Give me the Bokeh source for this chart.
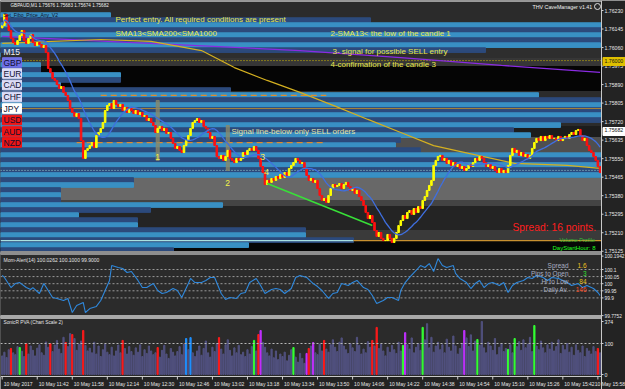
import numpy as np
import pandas as pd
from bokeh.plotting import figure
from bokeh.models import Range1d
from bokeh.embed import file_html
from bokeh.resources import INLINE
from bokeh.core.properties import value

# ---------------- data ----------------
chart_title = "GBPAUD,M1  1.75676 1.75683 1.75674 1.75682"
base_price = 1.75000
point = 0.00001
first_open_pts = 1150
# M1 closes, in points above 1.75000, one per minute from 11:26
close_pts = [
    1161, 1212, 1175, 1138, 1102, 1083, 1074, 1092, 1115, 1138,
    1092, 1079, 1102, 1120, 1083, 1069, 1083, 1074, 1060, 1069,
    1037, 964, 945, 918, 909, 890, 872, 881, 854, 840,
    817, 780, 762, 744, 757, 734, 633, 551, 588, 597,
    610, 624, 601, 656, 670, 689, 716, 771, 794, 803,
    780, 817, 799, 789, 799, 771, 785, 762, 780, 771,
    757, 771, 753, 762, 744, 748, 725, 734, 716, 702,
    670, 689, 698, 679, 689, 666, 670, 643, 620, 597,
    606, 588, 578, 610, 633, 656, 689, 716, 725, 734,
    716, 725, 698, 689, 670, 643, 652, 610, 560, 551,
    565, 542, 560, 588, 551, 542, 532, 551, 542, 551,
    578, 569, 588, 597, 588, 606, 588, 551, 514, 486,
    431, 450, 441, 459, 450, 468, 459, 477, 464, 486,
    473, 505, 519, 532, 551, 542, 528, 532, 505, 473,
    450, 459, 441, 450, 413, 381, 358, 367, 349, 381,
    413, 431, 422, 427, 436, 413, 431, 441, 422, 404,
    413, 390, 404, 376, 358, 335, 303, 275, 289, 257,
    220, 193, 211, 184, 174, 174, 202, 184, 165, 184,
    211, 243, 266, 289, 275, 303, 312, 294, 321, 303,
    330, 321, 358, 376, 404, 427, 450, 519, 542, 560,
    565, 542, 551, 528, 542, 519, 532, 514, 523, 505,
    514, 496, 505, 523, 514, 532, 551, 542, 560, 551,
    532, 514, 523, 505, 514, 496, 486, 505, 486, 496,
    486, 519, 565, 597, 578, 588, 565, 578, 560, 569,
    551, 565, 597, 624, 643, 633, 652, 633, 652, 643,
    656, 643, 643, 633, 652, 633, 643, 652, 643, 661,
    670, 661, 679, 684, 656, 633, 643, 610, 588, 578,
    560, 542, 514, 486,
]
time_label_bars = [0, 16, 32, 48, 64, 80, 96, 112, 128, 144, 160, 176, 192, 208, 224, 240, 256, 272]
time_labels = ["10 May 2017", "10 May 11:42", "10 May 11:58", "10 May 12:14", "10 May 12:30",
               "10 May 12:46", "10 May 13:02", "10 May 13:18", "10 May 13:34", "10 May 13:50",
               "10 May 14:06", "10 May 14:22", "10 May 14:38", "10 May 14:54", "10 May 15:10",
               "10 May 15:26", "10 May 15:42", "10 May 15:58"]

sma200_bars = [0, 45, 68, 91, 106, 121, 136, 152, 167, 182, 197, 213, 234, 258, 273]
sma200_pts = [1079, 1097, 1088, 1046, 968, 909, 854, 791, 730, 670, 610, 574, 528, 519, 505]
sma1000_bars = [0, 60, 136, 182, 228, 273]
sma1000_pts = [1111, 1083, 1046, 1014, 978, 946]

profile_prices = [1.76209, 1.76186, 1.76163, 1.76140, 1.76117, 1.76094, 1.76071, 1.76048,
                  1.76026, 1.76003, 1.75980, 1.75957, 1.75934, 1.75911, 1.75888, 1.75865,
                  1.75842, 1.75819, 1.75796, 1.75773, 1.75750, 1.75727, 1.75704, 1.75681,
                  1.75658, 1.75635, 1.75612, 1.75589, 1.75566, 1.75543, 1.75521, 1.75498,
                  1.75475, 1.75452, 1.75429, 1.75406, 1.75383, 1.75360, 1.75337, 1.75314,
                  1.75291, 1.75268, 1.75245, 1.75222, 1.75199, 1.75176, 1.75153, 1.75130]
profile_volume = [110, 370, 601, 601, 601, 601, 600, 485, 0, 0, 40, 40, 120, 120, 60, 230,
                  538, 600, 601, 601, 601, 601, 560, 513, 530, 400, 395, 420, 601, 601, 601, 601,
                  601, 133, 133, 60, 60, 60, 222, 150, 78, 137, 137, 305, 305, 353, 248, 173]

fibo_levels = [1.75840, 1.75624]
fibo_from = [45, 34]
fibo_to = [148, 148]
round_level = 1.76000
level_line = 1.75780
bid_line = 1.75496
poc_line = 1.75174
trend_bars = [121, 169]
trend_prices = [1.75436, 1.75243]
signal_bars = [71, 103]
signal_top = [1.75817, 1.75702]
signal_bottom = [1.75542, 1.75496]
last_bid = 1.75682
price_ticks = [1.76230, 1.76145, 1.76060, 1.75975, 1.75890, 1.75805, 1.75720,
               1.75635, 1.75550, 1.75465, 1.75380, 1.75295, 1.75210, 1.75125]

mom_bars = [0, 1, 4, 6, 8, 11, 13, 14, 17, 19, 21, 23, 25, 28, 30, 32, 34, 37, 38, 40,
            43, 45, 47, 49, 50, 53, 55, 57, 59, 62, 64, 66, 69, 71, 73, 75, 78, 80, 82, 85,
            86, 88, 91, 93, 95, 97, 100, 102, 104, 107, 109, 111, 113, 116, 118, 120, 123, 125,
            127, 129, 132, 134, 136, 139, 142, 144, 146, 149, 151, 153, 155, 158, 160, 162,
            165, 167, 169, 171, 174, 176, 178, 181, 182, 184, 186, 189, 191, 193, 195, 197,
            199, 201, 203, 206, 207, 209, 212, 214, 216, 218, 220, 222, 224, 227, 229, 231,
            233, 235, 238, 240, 242, 244, 247, 249, 251, 254, 256, 258, 260, 263, 265, 267,
            270, 272, 273]
mom_values = [100.058, 100.044, 99.973, 100.001, 100.008, 99.973, 99.959, 99.973, 99.931, 100.001,
              99.952, 99.903, 99.896, 99.882, 99.896, 99.797, 99.847, 99.868, 99.797, 99.825,
              99.840, 99.882, 99.952, 100.023, 100.128, 100.114, 100.107, 100.079, 100.086, 100.023,
              99.973, 99.973, 100.001, 99.952, 99.931, 99.938, 99.966, 99.952, 99.903, 100.001,
              100.037, 100.008, 100.008, 100.023, 100.044, 100.044, 99.931, 99.889, 99.903, 99.896,
              99.931, 99.938, 100.008, 100.037, 99.987, 99.931, 99.959, 99.966, 99.959, 99.931,
              99.966, 100.044, 100.058, 100.044, 100.001, 99.980, 99.952, 99.896, 99.931, 99.938,
              100.001, 99.987, 100.008, 100.023, 99.973, 99.959, 99.917, 99.861, 99.882, 99.903,
              99.903, 99.882, 99.952, 100.008, 100.044, 100.093, 100.128, 100.114, 100.142, 100.086,
              100.177, 100.128, 100.114, 100.128, 100.072, 100.037, 100.008, 99.966, 100.001, 100.023,
              99.973, 100.001, 100.008, 99.987, 100.008, 99.938, 99.987, 100.008, 100.023, 100.044,
              100.037, 100.058, 100.044, 100.023, 100.044, 100.037, 100.023, 100.008, 99.987, 100.001,
              99.973, 99.987, 99.966, 99.938, 99.917]
mom_levels = [100.1, 100.05, 100.0, 99.95, 99.9]
mom_tick_values = [100.1942, 100.1, 100.05, 100.0, 99.95, 99.9, 99.7752]
mom_tick_labels = ["100.1942", "100.1", "100.05", "100", "99.95", "99.9", "99.7752"]
mom_title = "Mom-Alert(14) 100.0262 100.1000 99.9000"

volumes = [
    60, 72, 55, 80, 84, 70, 64, 90, 87, 75,
    58, 100, 66, 92, 78, 60, 85, 96, 70, 62,
    105, 88, 100, 74, 95, 110, 82, 68, 120, 103,
    90, 132, 129, 116, 78, 98, 108, 142, 94, 76,
    85, 70, 104, 66, 92, 58, 80, 98, 72, 64,
    88, 60, 76, 95, 70, 110, 84, 66, 90, 74,
    62, 86, 72, 96, 58, 80, 68, 92, 76, 64,
    70, 87, 56, 78, 94, 66, 52, 84, 72, 60,
    74, 90, 64, 98, 116, 80, 119, 70, 58, 76,
    92, 62, 84, 108, 70, 56, 88, 74, 100, 119,
    82, 66, 96, 112, 78, 60, 86, 70, 94, 64,
    72, 58, 80, 66, 90, 110, 76, 129, 142, 104,
    88, 70, 60, 82, 54, 76, 48, 66, 58, 72,
    44, 62, 80, 87, 56, 40, 68, 52, 36, 68,
    84, 92, 103, 70, 64, 98, 76, 110, 82, 72,
    96, 112, 88, 74, 104, 118, 92, 80, 68, 100,
    86, 74, 120, 94, 66, 82, 70, 106, 88, 110,
    92, 152, 84, 98, 76, 60, 88, 72, 94, 80,
    68, 104, 76, 94, 135, 96, 82, 118, 70, 88,
    100, 78, 152, 112, 164, 86, 120, 72, 92, 104,
    80, 96, 70, 114, 88, 76, 124, 92, 66, 84,
    100, 142, 118, 90, 128, 76, 108, 113, 94, 171,
    86, 70, 104, 92, 78, 116, 64, 88, 100, 74,
    84, 81, 96, 70, 116, 90, 106, 78, 112, 86,
    98, 120, 74, 158, 92, 80, 108, 86, 70, 96,
    82, 104, 76, 90, 112, 68, 94, 80, 100, 72,
    88, 62, 96, 78, 70, 92, 58, 84, 76, 66,
    90, 74, 84, 70,
]
volume_kind = {4: "red", 8: "green", 11: "red", 22: "red", 29: "red", 32: "red", 37: "red",
               55: "red", 71: "red", 84: "blue", 86: "blue", 99: "red", 115: "green",
               117: "red", 118: "magenta", 133: "green", 139: "magenta", 140: "red",
               142: "magenta", 147: "red", 169: "red", 171: "red", 183: "green",
               184: "magenta", 192: "green", 211: "magenta", 217: "green", 231: "green",
               234: "green", 243: "green", 272: "red"}
vol_level = 100
vol_tick_labels = ["374", "100", "0"]
vol_title = "SonicR PVA  (Chart Scale 2)"

currencies = ["GBP", "EUR", "CAD", "CHF", "JPY", "USD", "AUD", "NZD"]
currency_fill = ["#6f6fe6", "#dcdcf6", "#dcdcf6", "#dcdcf6", "#ffffff", "#f01414", "#f01414", "#f01414"]
info_labels = ["Spread", "Pips to Open", "Hi to Low", "Daily Av."]
info_values = ["1.6", "3", "84", "146"]
info_colors = ["#f0c020", "#30e030", "#e0c020", "#ff4a20"]

# ---------------- geometry helpers (pixel layout of the MT4 window) ----------------
def bx(px):
    return (px - 1.7) / 2.19

def pm(py):
    return 1.7623 - (py - 10) * 0.0000459

def vm(py):
    return 100.1 - (py - 269) / 142.0

def vv(py):
    return (374 - py) * 100.0 / 31.0

FONT = value("Liberation Sans")
AX_FONT = "5.2px"

closes = base_price + np.array(close_pts) * point
opens = np.concatenate([[base_price + first_open_pts * point], closes[:-1]])
idx = np.arange(len(closes))
up = closes >= opens
sma13 = pd.Series(closes).rolling(13, min_periods=1).mean().values

p = figure(width=625, height=389, output_backend="svg", toolbar_location=None,
           x_range=Range1d(bx(0), bx(625)), y_range=Range1d(pm(389), pm(0)),
           x_axis_location=None, y_axis_location=None, min_border=0,
           background_fill_color="#232323", border_fill_color="#232323")
p.outline_line_color = None
p.grid.visible = False
p.extra_y_ranges = {"mom": Range1d(vm(389), vm(0)), "vol": Range1d(vv(389), vv(0))}

L, R = bx(0), bx(601)

# panel backgrounds
p.quad(left=[L], right=[R], top=[pm(1)], bottom=[pm(251)], color="#2b2b2b")
p.quad(left=[L], right=[R], top=[vm(254)], bottom=[vm(315)], color="#2b2b2b", y_range_name="mom")
p.quad(left=[L], right=[R], top=[vv(318)], bottom=[vv(376)], color="#2b2b2b", y_range_name="vol")

# background zones of the session profile
zones = [(48, 58, "#2e2e2e"), (58, 66, "#363636"), (66, 90, "#050505"), (126, 137, "#1c1c1c"),
         (137, 178, "#4f4f4f"), (178, 200, "#686868"), (200, 206, "#444444"),
         (206, 230, "#242424"), (230, 240, "#3a3a3a"), (240, 251, "#060606")]
p.quad(left=[L] * len(zones), right=[R] * len(zones), top=[pm(z[0]) for z in zones],
       bottom=[pm(z[1]) for z in zones], color=[z[2] for z in zones])

# volume profile rows
half = 0.0001148
prof_colors = ["#3990c4" if k % 2 == 0 else "#2c4a7c" for k in range(len(profile_prices))]
p.quad(left=[L] * len(profile_prices), right=[L + v / 2.19 for v in profile_volume],
       top=[pr + half * 0.92 for pr in profile_prices], bottom=[pr - half * 0.92 for pr in profile_prices],
       color=prof_colors)

# horizontal levels
p.segment(x0=[L], x1=[R], y0=[round_level], y1=[round_level], color="#d8c000", line_width=1, line_dash="1 2")
p.segment(x0=[L], x1=[R], y0=[level_line], y1=[level_line], color="#a8843a", line_width=1)
p.segment(x0=[L], x1=[R], y0=[bid_line], y1=[bid_line], color="#9ad0d0", line_width=1, line_dash="1 2")
p.segment(x0=[L], x1=[bx(353)], y0=[poc_line], y1=[poc_line], color="#a8e0e0", line_width=1.2)
p.segment(x0=[bx(353)], x1=[R], y0=[poc_line], y1=[poc_line], color="#c89030", line_width=1.2)
p.segment(x0=fibo_from, x1=fibo_to, y0=fibo_levels, y1=fibo_levels, color="#e08a2a",
          line_width=1.2, line_dash="6 4")

# signal candle markers
p.vbar(x=signal_bars, top=signal_top, bottom=signal_bottom, width=1.4, color="#8c8a68", alpha=0.75)

# moving averages
p.line(sma1000_bars, base_price + np.array(sma1000_pts) * point, color="#8a2be2", line_width=1.3)
p.line(sma200_bars, base_price + np.array(sma200_pts) * point, color="#d4b020", line_width=1.2)

# candles
cols = np.where(up, "#ffff00", "#ff1010")
p.vbar(x=idx, top=np.maximum(opens, closes), bottom=np.minimum(opens, closes), width=0.72,
       color=cols)
p.line(idx, sma13, color="#3f6fe0", line_width=1.3)
p.line(trend_bars, trend_prices, color="#38e038", line_width=1.5)

# ---------- texts ----------
def txt(px, py, s, color, size, align="left", yfun=pm, rng="default", bold=False):
    kw = {} if rng == "default" else {"y_range_name": rng}
    p.text(x=[bx(px)], y=[yfun(py)], text=[s], text_color=color, text_font=FONT,
           text_font_size=f"{size}px", text_align=align, text_baseline="middle",
           text_font_style="bold" if bold else "normal", **kw)

txt(10, 5, chart_title, "#f0f0f0", 4.6)
txt(3, 14, "Set_Fibo_Price_Any_V2", "#101028", 5)
txt(532, 6, "THV CaveManager v1.41", "#f0f0f0", 5.3)
p.scatter(x=[bx(597)], y=[pm(6)], size=6, marker="circle", fill_color=None, line_color="#e0e0e0")
yel = "#e9e94c"
txt(115, 19, "Perfect entry. All required conditions are present", yel, 8)
txt(115, 33, "SMA13<SMA200<SMA1000", yel, 8)
txt(330, 33, "2-SMA13< the low of the candle 1", yel, 8)
txt(332, 51, "3- signal for possible SELL entry", yel, 8)
txt(330, 64, "4-confirmation of the candle 3", yel, 8)
txt(231, 131, "Signal line-below only SELL orders", "#e4e4a8", 8)
for s, x, y in [("1", 157, 156), ("2", 227, 182), ("3", 262, 156), ("4", 266, 171)]:
    txt(x, y, s, "#f4f44a", 8.5, align="center")
txt(512, 227, "Spread: 16 points.", "#ff2020", 10.3)
txt(559, 239, "Volume Profile", "#36c036", 5.5)
txt(552, 247, "DayStartHour: 8", "#20ff20", 6)

# currency strength boxes
txt(3, 51, "M15", "#f0f0f0", 8.5)
box_y = [62, 73, 84.5, 96.5, 108, 119.5, 131, 142]
p.quad(left=[bx(2)] * 8, right=[bx(21)] * 8, top=[pm(y - 4.8) for y in box_y],
       bottom=[pm(y + 4.8) for y in box_y], color=currency_fill)
for c, y in zip(currencies, box_y):
    txt(3, y, c, "#101030", 8.5)

# ---------- momentum panel ----------
p.segment(x0=[L] * 5, x1=[R] * 5, y0=mom_levels, y1=mom_levels, color="#9a9a9a",
          line_dash="2 2", line_width=1, y_range_name="mom")
p.line(mom_bars, mom_values, color="#2f88dc", line_width=1.1, y_range_name="mom")
txt(3, 259, mom_title, "#e4e4e4", 5, yfun=vm, rng="mom")
for lab, val, c, y in zip(info_labels, info_values, info_colors, [265, 273, 281, 289]):
    txt(568, y, lab, "#a8aec0", 6.5, align="right", yfun=vm, rng="mom")
    txt(586, y, val, c, 6.5, align="right", yfun=vm, rng="mom")

# ---------- volume panel ----------
kind_color = {"red": "#ff1a1a", "green": "#33ff33", "blue": "#1e90ff", "magenta": "#c030ff"}
vcols = [kind_color.get(volume_kind.get(i, ""), "#51517f") for i in range(len(volumes))]
p.vbar(x=np.arange(len(volumes)), top=volumes, bottom=0, width=0.55, color=vcols, y_range_name="vol")
p.segment(x0=[L], x1=[R], y0=[vol_level], y1=[vol_level], color="#b8b8b8", line_dash="2 2",
          y_range_name="vol")
txt(3, 322, vol_title, "#e4e4e4", 4.8, yfun=vv, rng="vol")

# ---------- frame: separators and axes ----------
p.quad(left=[L], right=[R], top=[pm(251)], bottom=[pm(254)], color="#8e8e8e")
p.quad(left=[L], right=[R], top=[vm(315)], bottom=[vm(318)], color="#a8a8a8", y_range_name="mom")
p.quad(left=[L], right=[R], top=[pm(0)], bottom=[pm(1)], color="#9a9a9a")
p.segment(x0=[R], x1=[R], y0=[pm(0)], y1=[pm(389)], color="#c8c8c8", line_width=1)
p.segment(x0=[L], x1=[R], y0=[vv(376)], y1=[vv(376)], color="#c8c8c8", line_width=1, y_range_name="vol")

# price axis
p.segment(x0=[R] * len(price_ticks), x1=[bx(603)] * len(price_ticks), y0=price_ticks, y1=price_ticks,
          color="#d0d0d0")
p.text(x=[bx(604)] * len(price_ticks), y=price_ticks, text=[f"{t:.5f}" for t in price_ticks],
       text_color="#e8e8e8", text_font=FONT, text_font_size=AX_FONT, text_baseline="middle")
p.quad(left=[bx(602.5)], right=[bx(625)], top=[pm(57)], bottom=[pm(65)], color="#e0c000")
p.text(x=[bx(604)], y=[round_level], text=[f"{round_level:.5f}"], text_color="#101010", text_font=FONT,
       text_font_size=AX_FONT, text_baseline="middle")
p.quad(left=[bx(602.5)], right=[bx(625)], top=[pm(127)], bottom=[pm(135)], color="#ffffff")
p.text(x=[bx(604)], y=[last_bid], text=[f"{last_bid:.5f}"], text_color="#101010", text_font=FONT,
       text_font_size=AX_FONT, text_baseline="middle")

# momentum axis
p.segment(x0=[R] * 7, x1=[bx(603)] * 7, y0=mom_tick_values, y1=mom_tick_values, color="#d0d0d0",
          y_range_name="mom")
p.text(x=[bx(604)] * 7, y=mom_tick_values, text=mom_tick_labels, text_color="#e8e8e8", text_font=FONT,
       text_font_size="4.8px", text_baseline="middle", y_range_name="mom")

# volume axis
vol_tick_pos = [vv(321), vol_level, 0]
p.segment(x0=[R] * 3, x1=[bx(603)] * 3, y0=vol_tick_pos, y1=vol_tick_pos, color="#d0d0d0",
          y_range_name="vol")
p.text(x=[bx(604)] * 3, y=vol_tick_pos, text=vol_tick_labels, text_color="#e8e8e8", text_font=FONT,
       text_font_size=AX_FONT, text_baseline="middle", y_range_name="vol")

# time axis (the last label is kept inside the window by aligning it to its right end)
n = len(time_label_bars)
p.segment(x0=time_label_bars, x1=time_label_bars, y0=[vv(376)] * n, y1=[vv(379)] * n,
          color="#d0d0d0", y_range_name="vol")
p.text(x=time_label_bars[:-1], y=[vv(383)] * (n - 1), text=time_labels[:-1], text_color="#e8e8e8",
       text_font=FONT, text_font_size="5px", text_baseline="middle", x_offset=1.5, y_range_name="vol")
p.text(x=[bx(624.5)], y=[vv(383)], text=time_labels[-1:], text_color="#e8e8e8",
       text_font=FONT, text_font_size="5px", text_baseline="middle", text_align="right",
       y_range_name="vol")

open("out.html", "w").write(file_html(p, INLINE))
